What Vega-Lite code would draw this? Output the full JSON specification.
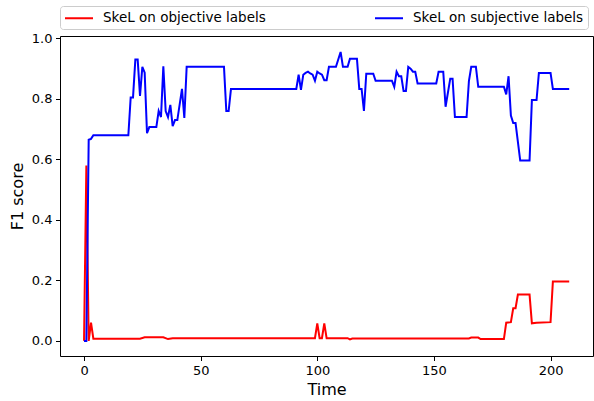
{
  "$schema": "https://vega.github.io/schema/vega-lite/v6.json",
  "width": 533,
  "height": 320,
  "autosize": {"type": "none"},
  "padding": {"left": 60, "top": 36, "right": 1, "bottom": 45},
  "background": "white",
  "config": {
    "view": {"stroke": "#000000", "strokeWidth": 1},
    "font": "DejaVu Sans",
    "axis": {
      "domain": false, "grid": false,
      "tickColor": "#000000", "tickSize": 4.5, "tickWidth": 1,
      "labelColor": "#000000", "labelFont": "DejaVu Sans", "labelFontSize": 13, "labelPadding": 3.5,
      "titleFont": "DejaVu Sans", "titleFontSize": 16, "titleFontWeight": "normal", "titleColor": "#000000"
    },
    "legend": {
      "labelFont": "DejaVu Sans", "labelFontSize": 13.5, "labelColor": "#000000"
    }
  },
  "datasets": {
    "rows": [
      {"time": 0, "f1": 0, "series": "SkeL on objective labels"},
      {"time": 1, "f1": 0.58, "series": "SkeL on objective labels"},
      {"time": 2, "f1": 0.0, "series": "SkeL on objective labels"},
      {"time": 3, "f1": 0.06, "series": "SkeL on objective labels"},
      {"time": 4, "f1": 0.007, "series": "SkeL on objective labels"},
      {"time": 24, "f1": 0.007, "series": "SkeL on objective labels"},
      {"time": 26, "f1": 0.012, "series": "SkeL on objective labels"},
      {"time": 34, "f1": 0.012, "series": "SkeL on objective labels"},
      {"time": 36, "f1": 0.006, "series": "SkeL on objective labels"},
      {"time": 38, "f1": 0.009, "series": "SkeL on objective labels"},
      {"time": 60, "f1": 0.009, "series": "SkeL on objective labels"},
      {"time": 99, "f1": 0.009, "series": "SkeL on objective labels"},
      {"time": 100, "f1": 0.058, "series": "SkeL on objective labels"},
      {"time": 101, "f1": 0.009, "series": "SkeL on objective labels"},
      {"time": 102, "f1": 0.009, "series": "SkeL on objective labels"},
      {"time": 103, "f1": 0.058, "series": "SkeL on objective labels"},
      {"time": 104, "f1": 0.009, "series": "SkeL on objective labels"},
      {"time": 113, "f1": 0.009, "series": "SkeL on objective labels"},
      {"time": 114, "f1": 0.005, "series": "SkeL on objective labels"},
      {"time": 115, "f1": 0.008, "series": "SkeL on objective labels"},
      {"time": 165, "f1": 0.008, "series": "SkeL on objective labels"},
      {"time": 166, "f1": 0.011, "series": "SkeL on objective labels"},
      {"time": 169, "f1": 0.011, "series": "SkeL on objective labels"},
      {"time": 170, "f1": 0.006, "series": "SkeL on objective labels"},
      {"time": 180, "f1": 0.006, "series": "SkeL on objective labels"},
      {"time": 181, "f1": 0.06, "series": "SkeL on objective labels"},
      {"time": 183, "f1": 0.062, "series": "SkeL on objective labels"},
      {"time": 184, "f1": 0.108, "series": "SkeL on objective labels"},
      {"time": 185, "f1": 0.108, "series": "SkeL on objective labels"},
      {"time": 186, "f1": 0.153, "series": "SkeL on objective labels"},
      {"time": 191, "f1": 0.153, "series": "SkeL on objective labels"},
      {"time": 192, "f1": 0.058, "series": "SkeL on objective labels"},
      {"time": 194, "f1": 0.06, "series": "SkeL on objective labels"},
      {"time": 200, "f1": 0.062, "series": "SkeL on objective labels"},
      {"time": 201, "f1": 0.196, "series": "SkeL on objective labels"},
      {"time": 208, "f1": 0.196, "series": "SkeL on objective labels"},
      {"time": 0, "f1": 0, "series": "SkeL on subjective labels"},
      {"time": 1, "f1": 0, "series": "SkeL on subjective labels"},
      {"time": 2, "f1": 0.665, "series": "SkeL on subjective labels"},
      {"time": 3, "f1": 0.668, "series": "SkeL on subjective labels"},
      {"time": 4, "f1": 0.68, "series": "SkeL on subjective labels"},
      {"time": 19, "f1": 0.68, "series": "SkeL on subjective labels"},
      {"time": 20, "f1": 0.805, "series": "SkeL on subjective labels"},
      {"time": 21, "f1": 0.805, "series": "SkeL on subjective labels"},
      {"time": 22, "f1": 0.93, "series": "SkeL on subjective labels"},
      {"time": 23, "f1": 0.93, "series": "SkeL on subjective labels"},
      {"time": 24, "f1": 0.81, "series": "SkeL on subjective labels"},
      {"time": 25, "f1": 0.906, "series": "SkeL on subjective labels"},
      {"time": 26, "f1": 0.887, "series": "SkeL on subjective labels"},
      {"time": 27, "f1": 0.687, "series": "SkeL on subjective labels"},
      {"time": 28, "f1": 0.707, "series": "SkeL on subjective labels"},
      {"time": 31, "f1": 0.707, "series": "SkeL on subjective labels"},
      {"time": 32, "f1": 0.76, "series": "SkeL on subjective labels"},
      {"time": 33, "f1": 0.74, "series": "SkeL on subjective labels"},
      {"time": 34, "f1": 0.908, "series": "SkeL on subjective labels"},
      {"time": 35, "f1": 0.76, "series": "SkeL on subjective labels"},
      {"time": 36, "f1": 0.74, "series": "SkeL on subjective labels"},
      {"time": 37, "f1": 0.78, "series": "SkeL on subjective labels"},
      {"time": 38, "f1": 0.71, "series": "SkeL on subjective labels"},
      {"time": 39, "f1": 0.73, "series": "SkeL on subjective labels"},
      {"time": 40, "f1": 0.73, "series": "SkeL on subjective labels"},
      {"time": 42, "f1": 0.833, "series": "SkeL on subjective labels"},
      {"time": 43, "f1": 0.737, "series": "SkeL on subjective labels"},
      {"time": 44, "f1": 0.906, "series": "SkeL on subjective labels"},
      {"time": 60, "f1": 0.906, "series": "SkeL on subjective labels"},
      {"time": 61, "f1": 0.76, "series": "SkeL on subjective labels"},
      {"time": 62, "f1": 0.76, "series": "SkeL on subjective labels"},
      {"time": 63, "f1": 0.833, "series": "SkeL on subjective labels"},
      {"time": 91, "f1": 0.833, "series": "SkeL on subjective labels"},
      {"time": 92, "f1": 0.88, "series": "SkeL on subjective labels"},
      {"time": 93, "f1": 0.83, "series": "SkeL on subjective labels"},
      {"time": 94, "f1": 0.88, "series": "SkeL on subjective labels"},
      {"time": 95, "f1": 0.886, "series": "SkeL on subjective labels"},
      {"time": 96, "f1": 0.89, "series": "SkeL on subjective labels"},
      {"time": 97, "f1": 0.884, "series": "SkeL on subjective labels"},
      {"time": 98, "f1": 0.88, "series": "SkeL on subjective labels"},
      {"time": 99, "f1": 0.86, "series": "SkeL on subjective labels"},
      {"time": 100, "f1": 0.89, "series": "SkeL on subjective labels"},
      {"time": 101, "f1": 0.884, "series": "SkeL on subjective labels"},
      {"time": 102, "f1": 0.88, "series": "SkeL on subjective labels"},
      {"time": 103, "f1": 0.862, "series": "SkeL on subjective labels"},
      {"time": 104, "f1": 0.862, "series": "SkeL on subjective labels"},
      {"time": 105, "f1": 0.906, "series": "SkeL on subjective labels"},
      {"time": 108, "f1": 0.906, "series": "SkeL on subjective labels"},
      {"time": 110, "f1": 0.955, "series": "SkeL on subjective labels"},
      {"time": 111, "f1": 0.906, "series": "SkeL on subjective labels"},
      {"time": 113, "f1": 0.906, "series": "SkeL on subjective labels"},
      {"time": 114, "f1": 0.933, "series": "SkeL on subjective labels"},
      {"time": 117, "f1": 0.933, "series": "SkeL on subjective labels"},
      {"time": 118, "f1": 0.833, "series": "SkeL on subjective labels"},
      {"time": 119, "f1": 0.833, "series": "SkeL on subjective labels"},
      {"time": 120, "f1": 0.76, "series": "SkeL on subjective labels"},
      {"time": 121, "f1": 0.883, "series": "SkeL on subjective labels"},
      {"time": 124, "f1": 0.883, "series": "SkeL on subjective labels"},
      {"time": 125, "f1": 0.86, "series": "SkeL on subjective labels"},
      {"time": 132, "f1": 0.86, "series": "SkeL on subjective labels"},
      {"time": 133, "f1": 0.84, "series": "SkeL on subjective labels"},
      {"time": 134, "f1": 0.89, "series": "SkeL on subjective labels"},
      {"time": 135, "f1": 0.875, "series": "SkeL on subjective labels"},
      {"time": 136, "f1": 0.875, "series": "SkeL on subjective labels"},
      {"time": 137, "f1": 0.826, "series": "SkeL on subjective labels"},
      {"time": 138, "f1": 0.826, "series": "SkeL on subjective labels"},
      {"time": 139, "f1": 0.906, "series": "SkeL on subjective labels"},
      {"time": 140, "f1": 0.9, "series": "SkeL on subjective labels"},
      {"time": 141, "f1": 0.89, "series": "SkeL on subjective labels"},
      {"time": 142, "f1": 0.89, "series": "SkeL on subjective labels"},
      {"time": 143, "f1": 0.851, "series": "SkeL on subjective labels"},
      {"time": 151, "f1": 0.851, "series": "SkeL on subjective labels"},
      {"time": 152, "f1": 0.89, "series": "SkeL on subjective labels"},
      {"time": 154, "f1": 0.89, "series": "SkeL on subjective labels"},
      {"time": 155, "f1": 0.774, "series": "SkeL on subjective labels"},
      {"time": 157, "f1": 0.867, "series": "SkeL on subjective labels"},
      {"time": 158, "f1": 0.867, "series": "SkeL on subjective labels"},
      {"time": 159, "f1": 0.74, "series": "SkeL on subjective labels"},
      {"time": 164, "f1": 0.74, "series": "SkeL on subjective labels"},
      {"time": 165, "f1": 0.859, "series": "SkeL on subjective labels"},
      {"time": 166, "f1": 0.906, "series": "SkeL on subjective labels"},
      {"time": 168, "f1": 0.906, "series": "SkeL on subjective labels"},
      {"time": 169, "f1": 0.84, "series": "SkeL on subjective labels"},
      {"time": 180, "f1": 0.84, "series": "SkeL on subjective labels"},
      {"time": 181, "f1": 0.815, "series": "SkeL on subjective labels"},
      {"time": 182, "f1": 0.875, "series": "SkeL on subjective labels"},
      {"time": 183, "f1": 0.745, "series": "SkeL on subjective labels"},
      {"time": 184, "f1": 0.72, "series": "SkeL on subjective labels"},
      {"time": 185, "f1": 0.72, "series": "SkeL on subjective labels"},
      {"time": 187, "f1": 0.596, "series": "SkeL on subjective labels"},
      {"time": 191, "f1": 0.596, "series": "SkeL on subjective labels"},
      {"time": 192, "f1": 0.796, "series": "SkeL on subjective labels"},
      {"time": 194, "f1": 0.796, "series": "SkeL on subjective labels"},
      {"time": 195, "f1": 0.886, "series": "SkeL on subjective labels"},
      {"time": 200, "f1": 0.886, "series": "SkeL on subjective labels"},
      {"time": 201, "f1": 0.833, "series": "SkeL on subjective labels"},
      {"time": 208, "f1": 0.833, "series": "SkeL on subjective labels"}
    ]
  },
  "data": {"name": "rows"},
  "mark": {"type": "line", "strokeWidth": 2, "clip": true},
  "encoding": {
    "x": {
      "field": "time", "type": "quantitative",
      "scale": {"domain": [-10.3, 218.2], "nice": false, "zero": false},
      "axis": {"values": [0, 50, 100, 150, 200], "title": "Time", "titlePadding": 4}
    },
    "y": {
      "field": "f1", "type": "quantitative",
      "scale": {"domain": [-0.05, 1.008], "nice": false, "zero": false},
      "axis": {"values": [0, 0.2, 0.4, 0.6, 0.8, 1.0], "format": ".1f", "title": "F1 score", "titlePadding": 6}
    },
    "color": {
      "field": "series", "type": "nominal",
      "scale": {"domain": ["SkeL on objective labels", "SkeL on subjective labels"], "range": ["#ff0000", "#0000ff"]},
      "legend": {
        "title": null, "orient": "none", "legendX": 0, "legendY": -30,
        "direction": "horizontal", "columns": 2, "columnPadding": 105,
        "symbolType": "M-2,0H2", "symbolSize": 196, "symbolStrokeWidth": 2, "symbolOffset": 7,
        "labelOffset": 16, "labelLimit": 0, "padding": 4,
        "strokeColor": "#cccccc", "fillColor": "#ffffff", "cornerRadius": 3
      }
    },
    "order": {"field": "time", "type": "quantitative"}
  }
}
